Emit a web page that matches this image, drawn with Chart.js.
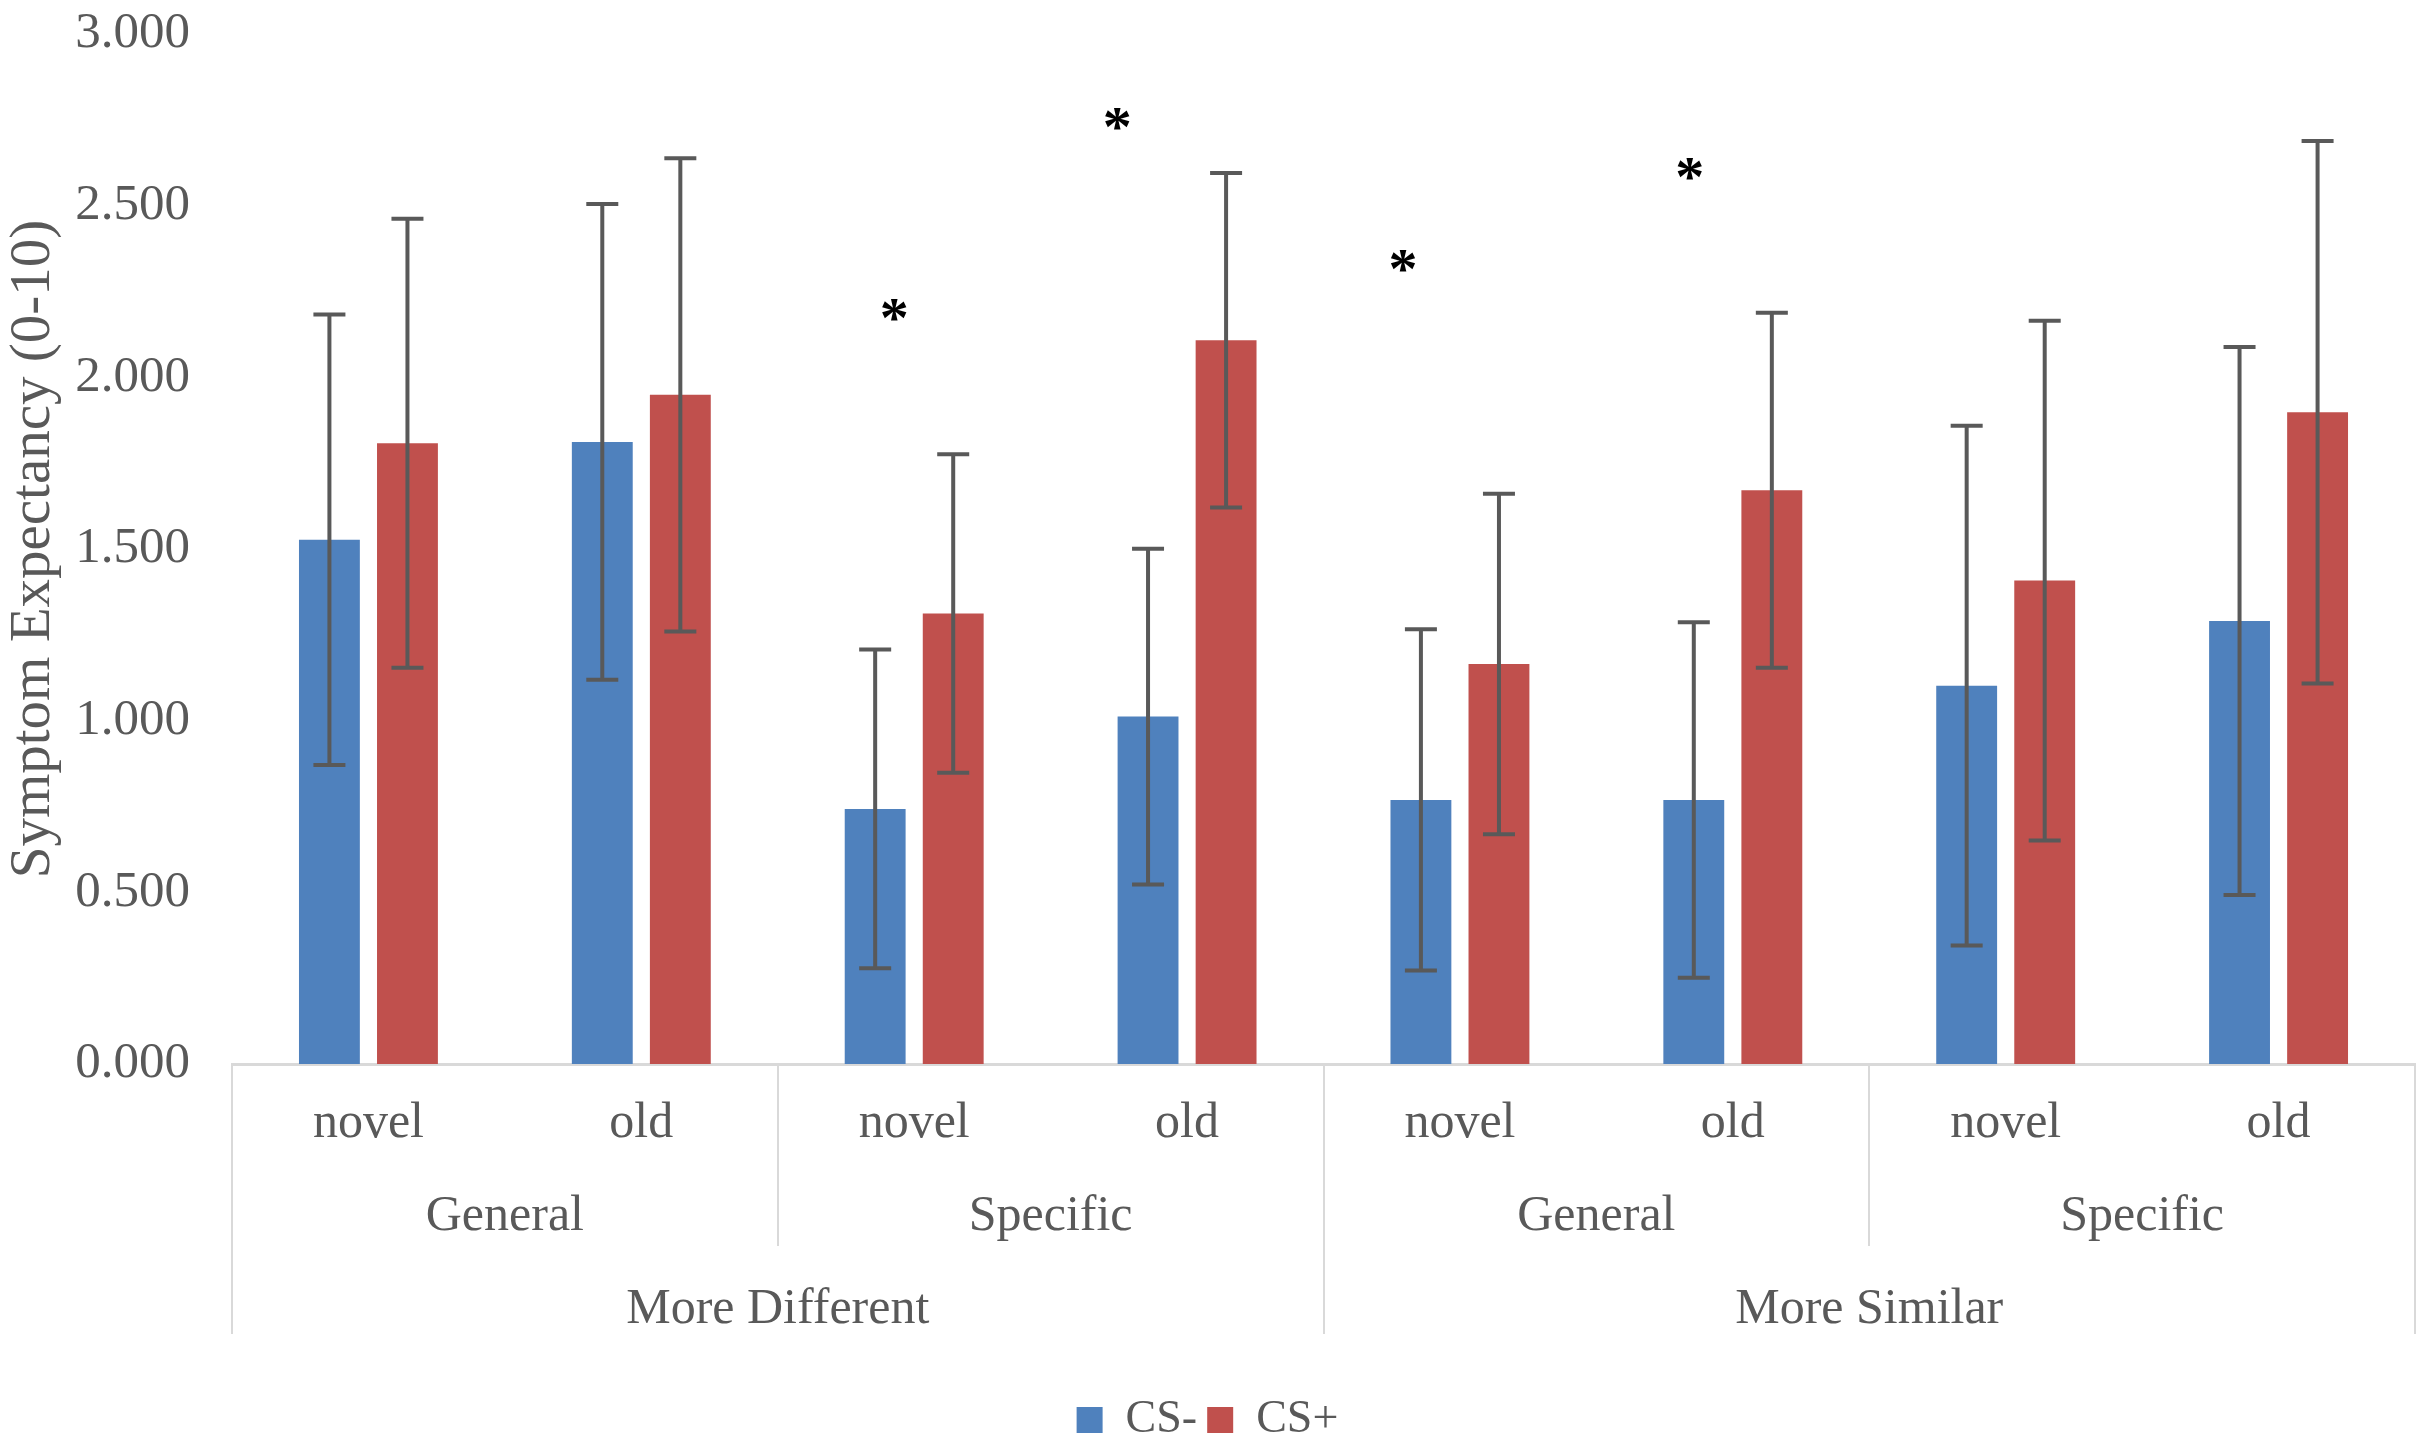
<!DOCTYPE html>
<html>
<head>
<meta charset="utf-8">
<title>Symptom Expectancy</title>
<script src="https://cdn.jsdelivr.net/npm/chart.js@4.4.0/dist/chart.umd.min.js"></script>
<style>
  html, body { margin: 0; padding: 0; background: #fff; }
  #wrap { width: 2427px; height: 1453px; position: relative; }
</style>
</head>
<body>
<div id="wrap"><canvas id="chart"></canvas></div>
<script>
// Categories (3 levels)
const conditionLabels = ['novel', 'old', 'novel', 'old', 'novel', 'old', 'novel', 'old'];
const instructionLabels = ['General', 'Specific', 'General', 'Specific'];
const similarityLabels = ['More Different', 'More Similar'];

// Series values + error bar half-widths
const csMinusMeans = [1.527, 1.812, 0.743, 1.012, 0.769, 0.769, 1.102, 1.290];
const csMinusErrors = [0.656, 0.693, 0.464, 0.489, 0.497, 0.518, 0.757, 0.798];
const csPlusMeans = [1.808, 1.949, 1.312, 2.108, 1.165, 1.671, 1.408, 1.898];
const csPlusErrors = [0.654, 0.689, 0.464, 0.487, 0.496, 0.517, 0.757, 0.790];

// Significance stars (value level where the * sits)
const starLevels = [null, null, 2.18, 2.735, 2.32, 2.59, null, null];

const FONT = '"Liberation Serif", "Times New Roman", serif';
const TEXT_COLOR = '#595959';
const LINE_COLOR = '#d9d9d9';

// error bars + stars
const errorBarPlugin = {
    id: 'errorBars',
    afterDatasetsDraw(chart, args, opts) {
        const ctx = chart.ctx;
        const yScale = chart.scales.y;
        const xScale = chart.scales.x;
        ctx.save();
        ctx.strokeStyle = '#595959';
        ctx.lineWidth = 4;
        chart.data.datasets.forEach((ds, di) => {
            const meta = chart.getDatasetMeta(di);
            meta.data.forEach((bar, i) => {
                const top = yScale.getPixelForValue(ds.data[i] + ds.errors[i]);
                const bottom = yScale.getPixelForValue(ds.data[i] - ds.errors[i]);
                ctx.beginPath();
                ctx.moveTo(bar.x, top); ctx.lineTo(bar.x, bottom);
                ctx.moveTo(bar.x - 16, top); ctx.lineTo(bar.x + 16, top);
                ctx.moveTo(bar.x - 16, bottom); ctx.lineTo(bar.x + 16, bottom);
                ctx.stroke();
            });
        });

        ctx.fillStyle = '#000';
        ctx.font = 'bold 58px ' + FONT;
        ctx.textAlign = 'center';
        ctx.textBaseline = 'middle';
        starLevels.forEach((v, i) => {
            if (v === null) return;
            const x = xScale.getPixelForValue(i + opts.starShift[i]);
            ctx.fillText('*', x, yScale.getPixelForValue(v) + 6);
        });
        ctx.restore();
    }
};

// second / third category rows and the separator lines
const groupAxisPlugin = {
    id: 'groupAxis',
    afterDraw(chart) {
        const ctx = chart.ctx;
        const xScale = chart.scales.x;
        const axisY = chart.chartArea.bottom;
        ctx.save();
        ctx.strokeStyle = LINE_COLOR;
        ctx.lineWidth = 2;

        // outer lines (third level) and inner lines (second level)
        [-0.5, 3.5, 7.5].forEach(v => {
            const x = Math.round(xScale.getPixelForValue(v));
            ctx.beginPath(); ctx.moveTo(x, axisY); ctx.lineTo(x, 1334); ctx.stroke();
        });
        [1.5, 5.5].forEach(v => {
            const x = Math.round(xScale.getPixelForValue(v));
            ctx.beginPath(); ctx.moveTo(x, axisY); ctx.lineTo(x, 1246); ctx.stroke();
        });

        ctx.fillStyle = TEXT_COLOR;
        ctx.font = '50px ' + FONT;
        ctx.textAlign = 'center';
        ctx.textBaseline = 'middle';
        instructionLabels.forEach((lbl, i) => {
            ctx.fillText(lbl, xScale.getPixelForValue(i * 2 + 0.5), 1217);
        });
        similarityLabels.forEach((lbl, i) => {
            ctx.fillText(lbl, xScale.getPixelForValue(i * 4 + 1.5), 1310);
        });
        ctx.restore();
    }
};

function renderChart() {
    const ctx = document.getElementById('chart').getContext('2d');
    return new Chart(ctx, {
        type: 'bar',
        data: {
            labels: conditionLabels,
            datasets: [
                { label: 'CS-', data: csMinusMeans, errors: csMinusErrors, backgroundColor: '#4f81bd' },
                { label: 'CS+', data: csPlusMeans, errors: csPlusErrors, backgroundColor: '#c0504d' }
            ]
        },
        options: {
            responsive: true,
            maintainAspectRatio: false,
            devicePixelRatio: 1,
            animation: false,
            categoryPercentage: 0.572,
            barPercentage: 0.78,
            layout: { padding: { top: 0, left: 0, right: 12, bottom: 0 } },
            scales: {
                x: {
                    grid: { display: false, drawTicks: false },
                    border: { display: true, color: LINE_COLOR, width: 3 },
                    ticks: { color: TEXT_COLOR, font: { family: FONT, size: 50 }, padding: 30, maxRotation: 0 },
                    afterFit: s => { s.height = 323; }
                },
                y: {
                    min: 0, max: 3,
                    grid: { display: false, drawTicks: false },
                    border: { display: false },
                    ticks: {
                        stepSize: 0.5,
                        color: TEXT_COLOR,
                        font: { family: FONT, size: 51 },
                        padding: 42,
                        callback: v => v.toFixed(3)
                    },
                    title: {
                        display: true,
                        text: 'Symptom Expectancy (0-10)',
                        color: TEXT_COLOR,
                        font: { family: FONT, size: 57 },
                        padding: { top: 0, bottom: 0 }
                    },
                    // fixed width, and keep the top of the plot close to the canvas edge
                    afterFit: s => { s.width = 232; s.paddingTop = 34; s.paddingBottom = 0; }
                }
            },
            plugins: {
                legend: {
                    position: 'bottom',
                    labels: {
                        color: TEXT_COLOR,
                        font: { family: FONT, size: 46 },
                        boxWidth: 26,
                        boxHeight: 26,
                        padding: 10
                    }
                },
                tooltip: { enabled: false },
                errorBars: { starShift: [0, 0, -0.073, -0.256, -0.209, -0.158, 0, 0] }
            }
        },
        plugins: [errorBarPlugin, groupAxisPlugin]
    });
}

document.addEventListener('DOMContentLoaded', () => {
    renderChart();
});
</script>
</body>
</html>
